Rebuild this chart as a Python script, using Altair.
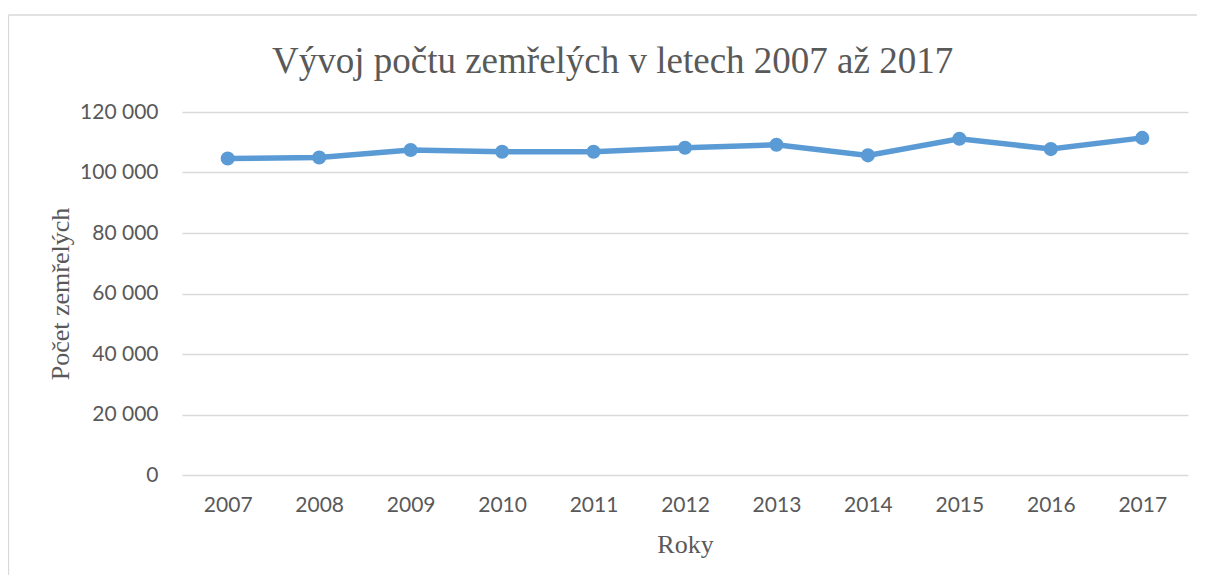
import altair as alt
import pandas as pd

years = ["2007", "2008", "2009", "2010", "2011", "2012", "2013", "2014", "2015", "2016", "2017"]
deaths = [104636, 104948, 107421, 106844, 106848, 108189, 109160, 105665, 111173, 107750, 111443]
y_ticks = [0, 20000, 40000, 60000, 80000, 100000, 120000]

df = pd.DataFrame({"Rok": years, "Zemreli": deaths})

GRAY = "#595959"
GRID = "#D9D9D9"
BLUE = "#5B9BD5"

x_enc = alt.X(
    "Rok:O",
    sort=years,
    scale=alt.Scale(type="point", padding=0.5),
    axis=alt.Axis(
        title="Roky",
        labelAngle=0,
        labelFont="Lato",
        labelFontSize=21,
        labelColor=GRAY,
        labelPadding=19,
        ticks=False,
        tickSize=0,
        domain=False,
        grid=False,
        titleFont="Liberation Serif",
        titleFontSize=26,
        titleFontWeight="normal",
        titleColor=GRAY,
        titlePadding=16,
    ),
)
y_enc = alt.Y(
    "Zemreli:Q",
    scale=alt.Scale(domain=[0, 120000], nice=False),
    axis=alt.Axis(
        title="Počet zemřelých",
        values=y_ticks,
        labelExpr="replace(format(datum.value, ','), ',', ' ')",
        labelFont="Lato",
        labelFontSize=21,
        labelColor=GRAY,
        labelPadding=24,
        ticks=False,
        tickSize=0,
        domain=False,
        grid=True,
        gridColor=GRID,
        gridWidth=1.3,
        titleFont="Liberation Serif",
        titleFontSize=26,
        titleFontWeight="normal",
        titleColor=GRAY,
        titlePadding=6,
    ),
)

line = alt.Chart(df).mark_line(
    color=BLUE, strokeWidth=5.5, point=alt.OverlayMarkDef(color=BLUE, size=200, filled=True, opacity=1)
).encode(x=x_enc, y=y_enc)

border_top = alt.Chart(alt.Data(values=[{}])).mark_rule(color=GRID, strokeWidth=1.3).encode(
    x=alt.value(-173.5), x2=alt.value(1015), y=alt.value(-97)
)
border_left = alt.Chart(alt.Data(values=[{}])).mark_rule(color=GRID, strokeWidth=1.3).encode(
    x=alt.value(-173.5), y=alt.value(-97), y2=alt.value(470)
)

chart = alt.layer(border_top, border_left, line).properties(
    width=1006,
    height=363,
    title=alt.TitleParams(
        "Vývoj počtu zemřelých v letech 2007 až 2017",
        font="Liberation Serif",
        fontSize=37,
        fontWeight="normal",
        color=GRAY,
        anchor="start",
        frame="group",
        dx=90,
        baseline="alphabetic",
        offset=0,
        dy=96,
    ),
    padding={"left": 174, "top": 104, "right": 9, "bottom": 100},
    autosize=alt.AutoSizeParams(type="none"),
).configure(background="white", view=alt.ViewConfig(stroke=None))

chart.save("out.html", embed_options={"renderer": "svg", "actions": False})
